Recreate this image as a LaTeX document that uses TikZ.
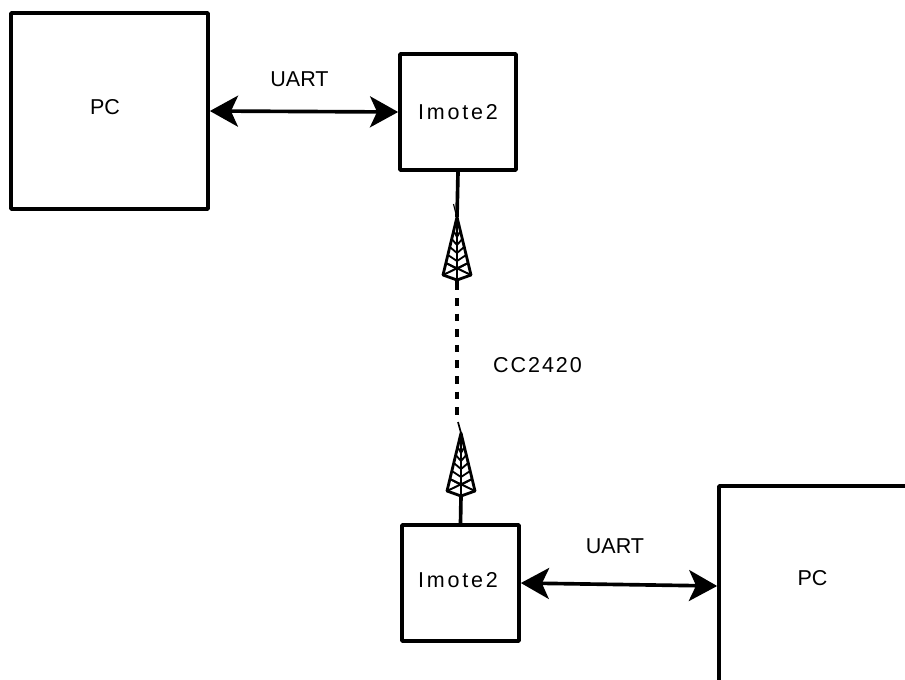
\documentclass[tikz,border=0pt]{standalone}
\usepackage{fontspec}
\setmainfont{Liberation Sans}
\usetikzlibrary{arrows.meta}
\tikzset{
  box/.style={draw,line width=2.6pt,rounded corners=0.6pt},
  lbl/.style={font=\fontsize{15.3}{18}\selectfont},
  link/.style={line width=2.6pt,{Stealth[length=20pt,width=22pt,inset=5pt]}-{Stealth[length=20pt,width=22pt,inset=5pt]}},
  wire/.style={line width=2.6pt},
  radio/.style={line width=2.8pt,dash pattern=on 5.4pt off 5.7pt},
  tower/.pic={
    % mast outline, apex at the origin
    \draw[line width=2pt,line join=round] (-14,58) -- (0,0) -- (14,58) -- (0,63) -- cycle;
    \draw[line width=1.5pt] (0,0) -- (0,63);
    \foreach \y in {14,22,30,38,46} \draw[line width=1.3pt] (-0.24*\y,\y) -- (0,\y+6) -- (0.24*\y,\y);
    \draw[line width=1.4pt] (-14,58) -- (0.24*46,46) (14,58) -- (-0.24*46,46);
  }
}
\newcommand{\spaced}[2]{{\addfontfeature{LetterSpace=#1}#2}}
\begin{document}
\begin{tikzpicture}[x=0.025cm,y=-0.025cm]
\clip (0,0) rectangle (905,679);
% hosts
\node[box,minimum width=4.925cm,minimum height=4.9cm] (pcA) at (109.5,111) {};
\node[lbl] (pcAtxt) at (105,107) {PC};
\node[box,minimum width=4.95cm,minimum height=5cm] (pcB) at (818,586) {};
\node[lbl] (pcBtxt) at (812.5,578) {PC};
% motes
\node[box,minimum width=2.9cm,minimum height=2.9cm] (moteA) at (458,112) {};
\node[lbl] (moteAtxt) at (458,112) {\spaced{13}{Imote2}};
\node[box,minimum width=2.925cm,minimum height=2.9cm] (moteB) at (460.5,583) {};
\node[lbl] (moteBtxt) at (458,580) {\spaced{13}{Imote2}};
% serial links
\draw[link] (pcA.east) -- (moteA.west);
\draw[link] (moteB.east) -- (pcB.west);
\node[lbl] (uartA) at (299.5,79) {UART};
\node[lbl] (uartB) at (615,546) {UART};
% antennas
\pic at (457,217) {tower};
\pic at (461,433) {tower};
\coordinate (tipA) at (457,217);
\coordinate (feedA) at (457,290);
\coordinate (tipB) at (461,433);
\coordinate (feedB) at (461,496);
\coordinate (nubA) at (453.5,204);
\coordinate (nubB) at (458,422);
\draw[wire] (moteA.south) -- (tipA);
\draw[wire] (457,280) -- (feedA);
\draw[wire] (moteB.north) -- (feedB);
\draw[line width=0.8pt] (nubA) -- (456,214);
\draw[line width=1.2pt] (nubB) .. controls (460,427) .. (tipB);
% radio link
\coordinate (airA) at (457,298);
\coordinate (airB) at (457,416);
\draw[radio] (airA) -- (airB);
\node[lbl] (cc) at (537.5,365) {\spaced{9}{CC2420}};
\end{tikzpicture}
\end{document}
